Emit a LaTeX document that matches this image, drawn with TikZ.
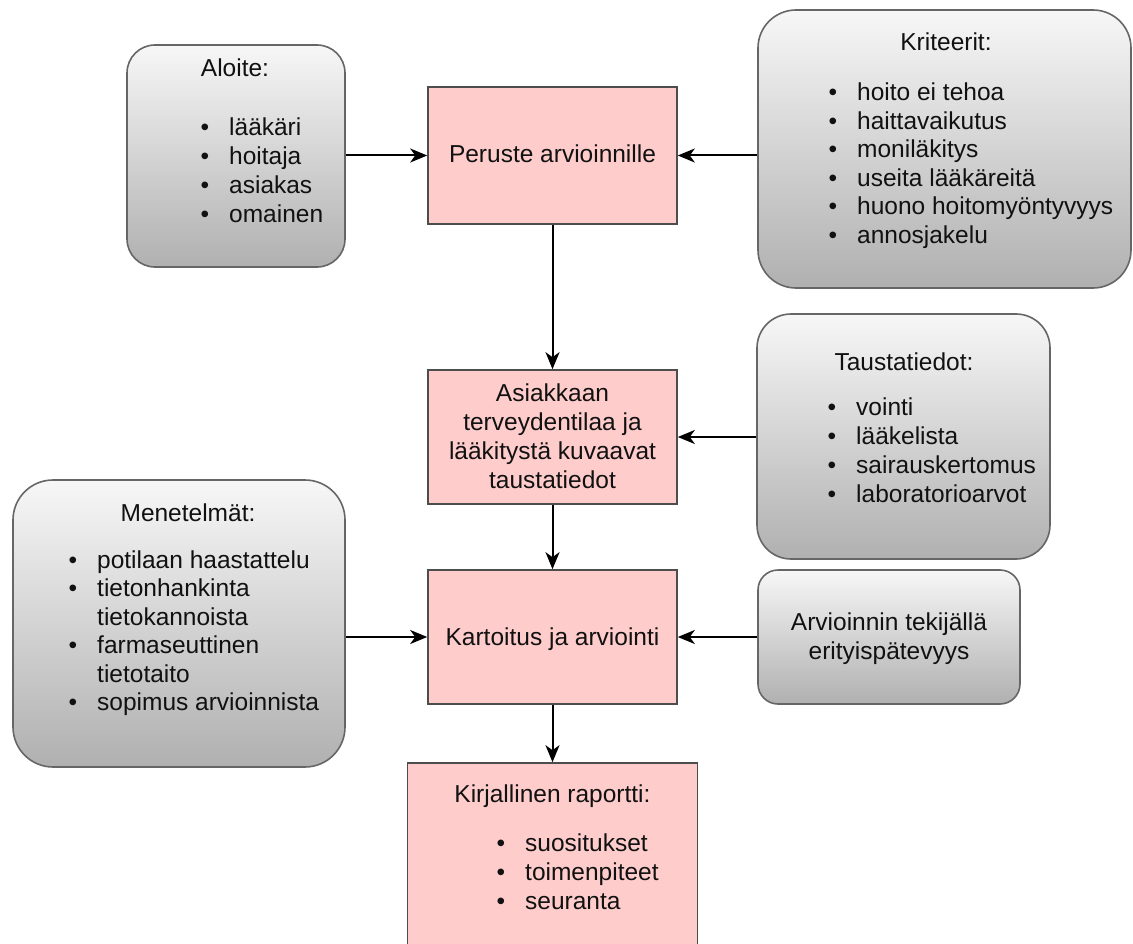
\documentclass[tikz,border=0pt]{standalone}
\usepackage{fontspec}
\setmainfont{Liberation Sans}
\usetikzlibrary{arrows.meta}
\definecolor{pinkfill}{HTML}{FFCCCC}
\definecolor{pinkdraw}{HTML}{4D4D4D}
\definecolor{graytop}{HTML}{F7F7F7}
\definecolor{graybot}{HTML}{B0B0B0}
\definecolor{graydraw}{HTML}{666666}
\definecolor{txtcol}{HTML}{111111}
\tikzset{
  pinkbox/.style={draw=pinkdraw, fill=pinkfill, line width=1.6pt, inner sep=0pt, rectangle},
  graybox/.style={draw=graydraw, top color=graytop, bottom color=graybot, line width=1.6pt, inner sep=0pt, rectangle, rounded corners=#1},
  txt/.style={inner sep=0pt, font=\fontsize{24.5}{29}\selectfont, text=txtcol},
  arr/.style={-{Stealth[length=17pt,width=14pt,inset=5pt]}, line width=2pt, black}
}
\newcommand\litem[4]{\node[txt,anchor=base west] (#1) at (#2,#3) {\llap{\textbullet\hspace{20pt}}#4};}
\newcommand\lcont[4]{\node[txt,anchor=base west] (#1) at (#2,#3) {#4};}
\begin{document}
\begin{tikzpicture}[x=1pt,y=-1pt]
\useasboundingbox (0,0) rectangle (1133,944);
\clip (0,0) rectangle (1133,944);
\fill[white] (0,0) rectangle (1133,944);

% boxes
\node[graybox=28pt, minimum width=218pt, minimum height=222pt] (alo) at (236,156) {};
\node[pinkbox, minimum width=249pt, minimum height=137pt] (per) at (552.5,155.5) {};
\node[graybox=38pt, minimum width=373pt, minimum height=278pt] (kri) at (944.5,149) {};
\node[pinkbox, minimum width=249pt, minimum height=134pt] (asi) at (552.5,437) {};
\node[graybox=34pt, minimum width=293pt, minimum height=245pt] (tau) at (903.5,436.5) {};
\node[graybox=40pt, minimum width=332pt, minimum height=287pt] (men) at (179,623.5) {};
\node[pinkbox, minimum width=249pt, minimum height=134pt] (kar) at (552.5,637) {};
\node[graybox=20pt, minimum width=262pt, minimum height=134pt] (arv) at (889,637) {};
\node[pinkbox, minimum width=290pt, minimum height=217pt] (kir) at (552.5,871.5) {};

% arrows
\draw[arr] (alo.east |- per.west) -- (per.west);
\draw[arr] (kri.west |- per.east) -- (per.east);
\draw[arr] (per.south) -- (asi.north);
\draw[arr] (tau.west |- asi.east) -- (asi.east);
\draw[arr] (asi.south) -- (kar.north);
\draw[arr] (men.east |- kar.west) -- (kar.west);
\draw[arr] (arv.west |- kar.east) -- (kar.east);
\draw[arr] (kar.south) -- (kir.north);

% Aloite
\node[txt,anchor=base] (aloT) at (235,77) {Aloite:};
\litem{alo1}{229}{136}{lääkäri}
\litem{alo2}{229}{165}{hoitaja}
\litem{alo3}{229}{194}{asiakas}
\litem{alo4}{229}{223}{omainen}

% Peruste
\node[txt,anchor=base] (perT) at (552.5,163) {Peruste arvioinnille};

% Kriteerit
\node[txt,anchor=base] (kriT) at (946,51) {Kriteerit:};
\litem{kri1}{857}{101}{hoito ei tehoa}
\litem{kri2}{857}{130}{haittavaikutus}
\litem{kri3}{857}{158}{moniläkitys}
\litem{kri4}{857}{187}{useita lääkäreitä}
\litem{kri5}{857}{215}{huono hoitomyöntyvyys}
\litem{kri6}{857}{244}{annosjakelu}

% Asiakkaan
\node[txt,anchor=base] (asi1) at (552.5,401.5) {Asiakkaan};
\node[txt,anchor=base] (asi2) at (552.5,430.5) {terveydentilaa ja};
\node[txt,anchor=base] (asi3) at (552.5,459.5) {lääkitystä kuvaavat};
\node[txt,anchor=base] (asi4) at (552.5,488.5) {taustatiedot};

% Taustatiedot
\node[txt,anchor=base] (tauT) at (904,370) {Taustatiedot:};
\litem{tau1}{856}{415}{vointi}
\litem{tau2}{856}{444}{lääkelista}
\litem{tau3}{856}{473}{sairauskertomus}
\litem{tau4}{856}{502}{laboratorioarvot}

% Menetelmat
\node[txt,anchor=base] (menT) at (188,521) {Menetelmät:};
\litem{men1}{97}{568}{potilaan haastattelu}
\litem{men2}{97}{596.5}{tietonhankinta}
\lcont{men3}{97}{625}{tietokannoista}
\litem{men4}{97}{653.5}{farmaseuttinen}
\lcont{men5}{97}{682}{tietotaito}
\litem{men6}{97}{710.5}{sopimus arvioinnista}

% Kartoitus
\node[txt,anchor=base] (karT) at (552.5,645) {Kartoitus ja arviointi};

% Arvioinnin
\node[txt,anchor=base] (arv1) at (889,630.5) {Arvioinnin tekijällä};
\node[txt,anchor=base] (arv2) at (889,659.5) {erityispätevyys};

% Kirjallinen
\node[txt,anchor=base] (kirT) at (552.5,802) {Kirjallinen raportti:};
\litem{kir1}{525}{851}{suositukset}
\litem{kir2}{525}{880}{toimenpiteet}
\litem{kir3}{525}{909}{seuranta}
\end{tikzpicture}
\end{document}
